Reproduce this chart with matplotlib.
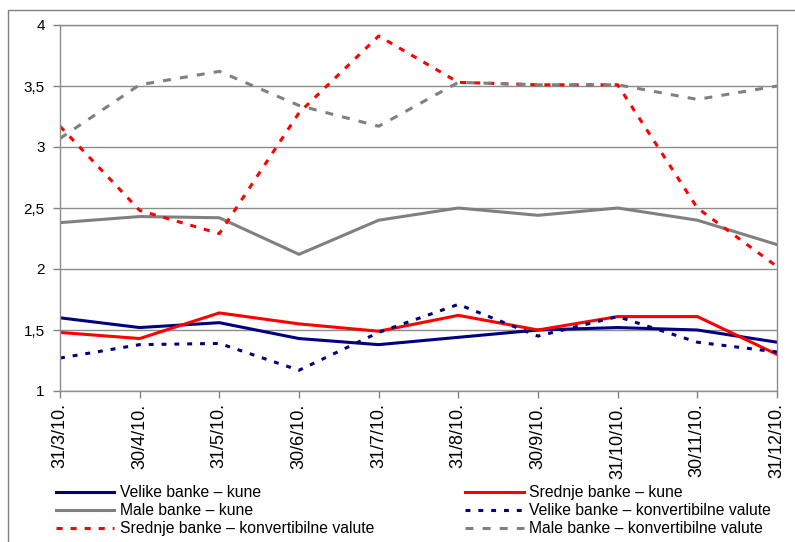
import matplotlib

matplotlib.use("Agg")
import matplotlib.pyplot as plt
from matplotlib.lines import Line2D

plt.rcParams["font.family"] = ["Liberation Sans", "DejaVu Sans"]

dates = ["31/3/10.", "30/4/10.", "31/5/10.", "30/6/10.", "31/7/10.",
         "31/8/10.", "30/9/10.", "31/10/10.", "30/11/10.", "31/12/10."]

velike_kune = [1.60, 1.52, 1.56, 1.43, 1.38, 1.44, 1.50, 1.52, 1.50, 1.40]
srednje_kune = [1.48, 1.43, 1.64, 1.55, 1.49, 1.62, 1.50, 1.61, 1.61, 1.30]
male_kune = [2.38, 2.43, 2.42, 2.12, 2.40, 2.50, 2.44, 2.50, 2.40, 2.20]
velike_konv = [1.27, 1.38, 1.39, 1.17, 1.48, 1.71, 1.45, 1.61, 1.40, 1.32]
srednje_konv = [3.17, 2.48, 2.29, 3.28, 3.91, 3.53, 3.51, 3.51, 2.50, 2.02]
male_konv = [3.07, 3.51, 3.62, 3.34, 3.17, 3.53, 3.51, 3.51, 3.39, 3.50]

y_ticks = [1, 1.5, 2, 2.5, 3, 3.5, 4]
y_tick_labels = ["1", "1,5", "2", "2,5", "3", "3,5", "4"]

NAVY = "#000080"
RED = "#FF0000"
GRAY = "#808080"
GRID = "#8c8c8c"

W, H = 795, 542
fig = plt.figure(figsize=(W / 100, H / 100), dpi=100)

# outer chart frame (only left and top edges visible)
fig.add_artist(Line2D([8 / W, 8 / W, 1.0], [0.0, 1 - 10 / H, 1 - 10 / H],
                      color=GRAY, lw=1.0, transform=fig.transFigure))

ax = fig.add_axes([60 / W, 1 - 391 / H, (777 - 60) / W, (391 - 25) / H])
x = list(range(len(dates)))

lw = 2.2
ax.plot(x, velike_kune, color=NAVY, lw=lw, label="Velike banke – kune")
ax.plot(x, male_kune, color=GRAY, lw=lw, label="Male banke – kune")
ax.plot(x, srednje_konv, color=RED, lw=lw, dashes=(2.0, 2.6),
        label="Srednje banke – konvertibilne valute")
ax.plot(x, srednje_kune, color=RED, lw=lw, label="Srednje banke – kune")
ax.plot(x, velike_konv, color=NAVY, lw=lw, dashes=(1.6, 2.6),
        label="Velike banke – konvertibilne valute")
ax.plot(x, male_konv, color=GRAY, lw=lw, dashes=(2.6, 3.0),
        label="Male banke – konvertibilne valute")

ax.set_xlim(0, len(dates) - 1)
ax.set_ylim(1, 4)
ax.set_yticks(y_ticks)
ax.set_yticklabels(y_tick_labels, fontsize=11)
ax.set_xticks(x)
ax.set_xticklabels(dates, rotation=90, fontsize=13, va="top")
ax.tick_params(axis="y", length=5, color=GRAY, width=1, pad=6)
ax.tick_params(axis="x", length=5, color=GRAY, width=1, pad=4)
ax.grid(axis="y", color=GRID, lw=1.0)
ax.set_axisbelow(True)
for side in ["left", "bottom", "right", "top"]:
    ax.spines[side].set_color(GRID)
    ax.spines[side].set_linewidth(1.0)

fig.legend(loc="upper left", bbox_to_anchor=(56 / W, 1 - 485 / H), ncol=2,
           frameon=False, fontsize=11.3, handlelength=3.7, handletextpad=0.38,
           labelspacing=0.2, columnspacing=5.8, borderaxespad=0, borderpad=0)

fig.savefig("out.png", dpi=100)
